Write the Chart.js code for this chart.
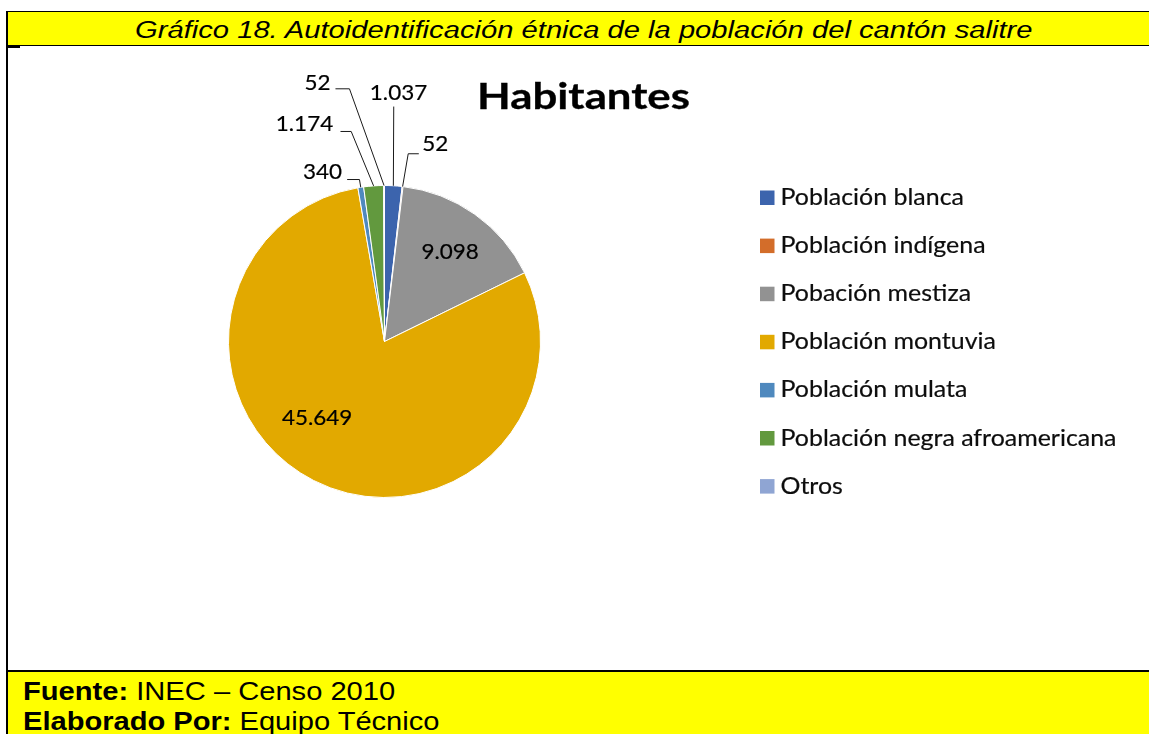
<!DOCTYPE html>
<html>
<head>
<meta charset="utf-8">
<script src="https://cdn.jsdelivr.net/npm/chart.js@4/dist/chart.umd.min.js"></script>
<style>
  html, body { margin:0; padding:0; background:#fff; }
  body { width:1149px; height:734px; overflow:hidden; position:relative; font-family:"Liberation Sans", Arial, sans-serif; }
  .blk { position:absolute; background:#000; }
  .yel { position:absolute; background:#ffff00; }
  .txt { position:absolute; white-space:nowrap; line-height:0; color:#000; transform-origin:0 0; }
  #chartCanvas { position:absolute; left:0; top:0; }
</style>
</head>
<body>
<div class="yel" style="left:8px;top:12px;width:1141px;height:33px;"></div>
<div class="yel" style="left:8px;top:672px;width:1141px;height:62px;"></div>
<div class="blk" style="left:6px;top:11px;width:2px;height:723px;"></div>
<div class="blk" style="left:6px;top:11px;width:1143px;height:1px;"></div>
<div class="blk" style="left:8px;top:45px;width:1141px;height:1px;"></div>
<div class="blk" style="left:8px;top:46px;width:12px;height:2px;"></div>
<div class="blk" style="left:8px;top:670px;width:1141px;height:2px;"></div>

<div class="txt" id="figTitle" style="font-style:italic;"></div>
<div class="txt" id="foot1"></div>
<div class="txt" id="foot2"></div>

<canvas id="chartCanvas" width="1149" height="734"></canvas>

<script>
// ---------------- data ----------------
const figureTitle = 'Gráfico 18. Autoidentificación étnica de la población del cantón salitre';
const sourceLabel = 'Fuente:';
const sourceText = ' INEC – Censo 2010';
const authorLabel = 'Elaborado Por:';
const authorText = ' Equipo Técnico';
const chartTitle = 'Habitantes';
const categories = [
  'Población blanca',
  'Población indígena',
  'Pobación mestiza',
  'Población montuvia',
  'Población mulata',
  'Población negra afroamericana',
  'Otros'
];
const habitantes = [1037, 52, 9098, 45649, 340, 1174, 52];

// ---------------- styles ----------------
const sliceColors = ['#3c64ad', '#d36d2a', '#929292', '#e2a900', '#4f89be', '#62993e', '#8fa5d3'];
// label placement relative to the slice anchor (inside: arc centroid, outside: outer edge at mid-angle)
const labelStyles = [
  { inside:false, dx:5.2,  dy:-93.3, leader:[[0.4,-79.2]] },
  { inside:false, dx:32.6, dy:-43,   leader:[[16.2,-32.8],[5.6,-32.8]] },
  { inside:true,  dx:20.5, dy:-26.6 },
  { inside:true,  dx:-31.9, dy:6.2 },
  { inside:false, dx:-38.3, dy:-16.3, leader:[[-13.6,-7.8],[-1.3,-7.8]] },
  { inside:false, dx:-69.1, dy:-62.4, leader:[[-33.1,-54.4],[-22.4,-54.4]] },
  { inside:false, dx:-66.6, dy:-103,  leader:[[-48.6,-96.7],[-34.6,-96.7]] }
];
const labelFontPx = 22, labelTargetWidth = 57.4;   // width of "1.037"
const legendFontPx = 22.5, legendTargetWidth = 336; // width of longest entry
const titleFontPx = 36, titleTargetWidth = 213;

function fmt(n){ return String(n).replace(/\B(?=(\d{3})+(?!\d))/g, '.'); }

// ---------------- header / footer text ----------------
function placeText(el, html, fontPx, left, baseline, targetWidth){
  el.innerHTML = html;
  el.style.fontSize = fontPx + 'px';
  el.style.left = left + 'px';
  el.style.top = (baseline - 0.3465 * fontPx) + 'px';
  const w = el.offsetWidth;
  if (w > 0) el.style.transform = 'scaleX(' + (targetWidth / w) + ')';
}
placeText(document.getElementById('figTitle'), figureTitle, 23.3, 135, 38, 898);
placeText(document.getElementById('foot1'), '<b>' + sourceLabel + '</b>' + sourceText, 25.6, 22.7, 700, 372);
placeText(document.getElementById('foot2'), '<b>' + authorLabel + '</b>' + authorText, 25.6, 22.7, 730, 417);

// ---------------- chart ----------------
function scaledText(ctx, text, x, baseline, font, sx, align, weight){
  ctx.save();
  ctx.font = font;
  ctx.textAlign = align;
  ctx.textBaseline = 'alphabetic';
  ctx.translate(x, baseline);
  ctx.scale(sx, 1);
  ctx.fillText(text, 0, 0);
  if (weight) {
    ctx.lineWidth = weight;
    ctx.strokeStyle = ctx.fillStyle;
    ctx.strokeText(text, 0, 0);
  }
  ctx.restore();
}

const annotations = {
  id: 'annotations',
  afterDraw(chart){
    const ctx = chart.ctx;
    const meta = chart.getDatasetMeta(0);
    const area = chart.chartArea;

    // data labels
    const lFont = labelFontPx + 'px Lato';
    ctx.font = lFont;
    const lsx = labelTargetWidth / ctx.measureText(fmt(habitantes[0])).width;
    meta.data.forEach((arc, i) => {
      const st = labelStyles[i];
      const p = arc.getProps(['x','y','startAngle','endAngle','outerRadius'], true);
      const mid = (p.startAngle + p.endAngle) / 2;
      let ax, ay;
      if (st.inside) {
        const c = arc.tooltipPosition(true);
        ax = c.x; ay = c.y;
      } else {
        ax = p.x + Math.cos(mid) * p.outerRadius;
        ay = p.y + Math.sin(mid) * p.outerRadius;
        ctx.save();
        ctx.strokeStyle = '#1a1a1a';
        ctx.lineWidth = 1;
        ctx.beginPath();
        st.leader.forEach((pt, k) => {
          if (k === 0) ctx.moveTo(ax + pt[0], ay + pt[1]); else ctx.lineTo(ax + pt[0], ay + pt[1]);
        });
        ctx.lineTo(ax, ay);
        ctx.stroke();
        ctx.restore();
      }
      ctx.fillStyle = '#000';
      scaledText(ctx, fmt(habitantes[i]), ax + st.dx, ay + st.dy + 0.358 * labelFontPx, lFont, lsx, 'center', 0.2);
    });

    // chart title
    const tFont = 'bold ' + titleFontPx + 'px Lato';
    ctx.font = tFont;
    const tsx = titleTargetWidth / ctx.measureText(chartTitle).width;
    ctx.fillStyle = '#000';
    scaledText(ctx, chartTitle, area.left + 355.5, area.top - 75.7, tFont, tsx, 'center', 0.3);

    // legend
    const gFont = legendFontPx + 'px Lato';
    ctx.font = gFont;
    const longest = categories.reduce((a, b) => ctx.measureText(b).width > ctx.measureText(a).width ? b : a);
    const gsx = legendTargetWidth / ctx.measureText(longest).width;
    const lx = area.right + 219, ly0 = area.top + 20, step = 48.1, box = 14.5;
    categories.forEach((c, i) => {
      const bottom = ly0 + i * step;
      ctx.fillStyle = sliceColors[i];
      ctx.fillRect(lx, bottom - box, box, box);
      ctx.fillStyle = '#0d0d0d';
      scaledText(ctx, c, lx + 20.5, bottom, gFont, gsx, 'left', 0.2);
    });
  }
};

new Chart(document.getElementById('chartCanvas'), {
  type: 'pie',
  data: {
    labels: categories,
    datasets: [{
      data: habitantes,
      backgroundColor: sliceColors,
      borderColor: '#ffffff',
      borderWidth: 1,
      hoverOffset: 0
    }]
  },
  options: {
    responsive: false,
    animation: false,
    events: [],
    layout: { padding: { left: 228, right: 608, top: 185, bottom: 236 } },
    plugins: { legend: { display: false }, tooltip: { enabled: false }, title: { display: false } }
  },
  plugins: [annotations]
});
</script>
</body>
</html>
